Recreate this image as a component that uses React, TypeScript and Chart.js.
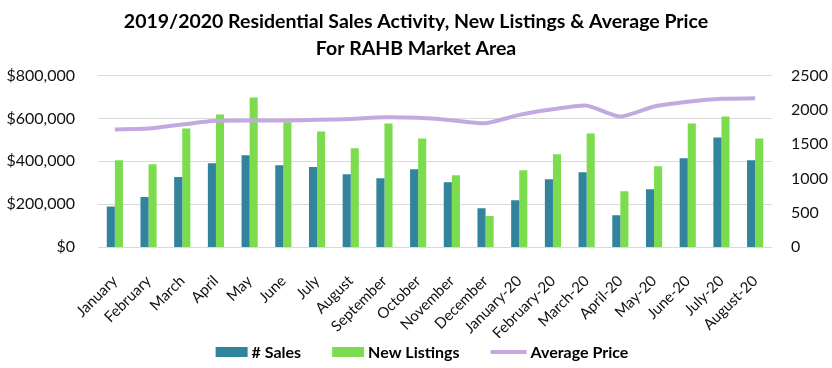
import React, { useEffect, useRef } from "react";
import { Chart, registerables } from "chart.js";

Chart.register(...registerables);

const categories = [
  "January", "February", "March", "April", "May", "June", "July", "August",
  "September", "October", "November", "December", "January-20", "February-20",
  "March-20", "April-20", "May-20", "June-20", "July-20", "August-20",
];

const sales = [590, 731, 1022, 1221, 1337, 1192, 1167, 1061, 1003, 1134, 945, 567, 683, 988, 1090, 465, 843, 1294, 1599, 1265];
const newListings = [1265, 1206, 1730, 1933, 2180, 1821, 1686, 1439, 1802, 1584, 1047, 451, 1119, 1352, 1657, 814, 1177, 1802, 1904, 1584];
const averagePrice = [549000, 553000, 572000, 589000, 591000, 591000, 594000, 598000, 606000, 603000, 592000, 578000, 617000, 643000, 660000, 609000, 656000, 678000, 692000, 694000];

const titleLines = [
  "2019/2020 Residential Sales Activity, New Listings & Average Price",
  "For RAHB Market Area",
];

const FONT = "Lato, 'Open Sans', sans-serif";

const SALES_COLOR = "#31849B";
const LISTINGS_COLOR = "#7BDD4E";
const PRICE_COLOR = "#C3A9E0";

const customLegend = {
  id: "customLegend",
  afterDraw(chart: any) {
    const ctx = chart.ctx as CanvasRenderingContext2D;
    const items = chart.data.datasets.map((ds: any) => ({
      label: ds.label as string,
      color: (ds.type === "line" ? ds.borderColor : ds.backgroundColor) as string,
      isLine: ds.type === "line",
    }));
    ctx.save();
    ctx.font = `bold 16px ${FONT}`;
    ctx.textBaseline = "middle";
    ctx.textAlign = "left";
    const boxW = 32;
    const lineW = 36;
    const gapText = 4;
    const gapItem = 31;
    const widths = items.map((it: any) => (it.isLine ? lineW : boxW) + gapText + ctx.measureText(it.label).width);
    const total = widths.reduce((a: number, b: number) => a + b, 0) + gapItem * (items.length - 1);
    let x = 422 - total / 2;
    const y = 352;
    items.forEach((it: any) => {
      if (it.isLine) {
        ctx.strokeStyle = it.color;
        ctx.lineWidth = 4;
        ctx.beginPath();
        ctx.moveTo(x, y);
        ctx.lineTo(x + lineW, y);
        ctx.stroke();
        x += lineW + gapText;
      } else {
        ctx.fillStyle = it.color;
        ctx.fillRect(x, y - 5, boxW, 10);
        x += boxW + gapText;
      }
      ctx.fillStyle = "#000";
      ctx.fillText(it.label, x, y + 1);
      x += ctx.measureText(it.label).width + gapItem;
    });
    ctx.restore();
  },
};

export default function App() {
  const ref = useRef<HTMLCanvasElement | null>(null);

  useEffect(() => {
    if (!ref.current) return;
    const chart = new Chart(ref.current, {
      type: "bar",
      data: {
        labels: categories,
        datasets: [
          {
            type: "bar",
            label: "# Sales",
            data: sales,
            backgroundColor: SALES_COLOR,
            borderWidth: 0,
            yAxisID: "yCount",
            categoryPercentage: 0.48,
            barPercentage: 1,
          } as any,
          {
            type: "bar",
            label: "New Listings",
            data: newListings,
            backgroundColor: LISTINGS_COLOR,
            borderWidth: 0,
            yAxisID: "yCount",
            categoryPercentage: 0.48,
            barPercentage: 1,
          } as any,
          {
            type: "line",
            label: "Average Price",
            data: averagePrice,
            borderColor: PRICE_COLOR,
            backgroundColor: PRICE_COLOR,
            borderWidth: 4,
            pointRadius: 0,
            pointHoverRadius: 0,
            tension: 0.2,
            yAxisID: "yPrice",
            order: -1,
          } as any,
        ],
      },
      options: {
        responsive: false,
        animation: false,
        devicePixelRatio: 1,
        layout: { padding: { left: 0, right: 0, top: 0, bottom: 30 } },
        plugins: {
          title: {
            display: true,
            text: titleLines,
            color: "#000",
            font: { family: FONT, size: 19.5, weight: "bold", lineHeight: 1.35 },
            padding: { top: 9, bottom: 14 },
          },
          legend: { display: false },
          tooltip: { enabled: false },
        },
        scales: {
          x: {
            grid: { display: false },
            border: { display: false },
            ticks: {
              minRotation: 45,
              maxRotation: 45,
              autoSkip: false,
              color: "#111",
              font: { family: FONT, size: 15 },
              padding: 17,
            },
            afterFit: (s: any) => {
              s.height = 91;
            },
          },
          yPrice: {
            position: "left",
            min: 0,
            max: 800000,
            grid: { color: "#D9D9D9", lineWidth: 1, drawTicks: false },
            border: { display: false },
            ticks: {
              stepSize: 200000,
              color: "#111",
              font: { family: FONT, size: 16 },
              padding: 23,
              callback: (v: any) => "$" + Number(v).toLocaleString("en-US"),
            },
            afterFit: (s: any) => {
              s.width = 98;
            },
          },
          yCount: {
            position: "right",
            min: 0,
            max: 2500,
            grid: { display: false, drawTicks: false },
            border: { display: false },
            ticks: {
              stepSize: 500,
              color: "#111",
              font: { family: FONT, size: 16 },
              padding: 19,
              callback: (v: any) => String(v),
            },
            afterFit: (s: any) => {
              s.width = 60;
            },
          },
        },
      },
      plugins: [customLegend],
    });
    return () => chart.destroy();
  }, []);

  return (
    <div style={{ position: "absolute", left: 0, top: 0, width: 832, height: 368, background: "#fff" }}>
      <canvas ref={ref} width={832} height={368} style={{ width: 832, height: 368, display: "block" }} />
    </div>
  );
}
